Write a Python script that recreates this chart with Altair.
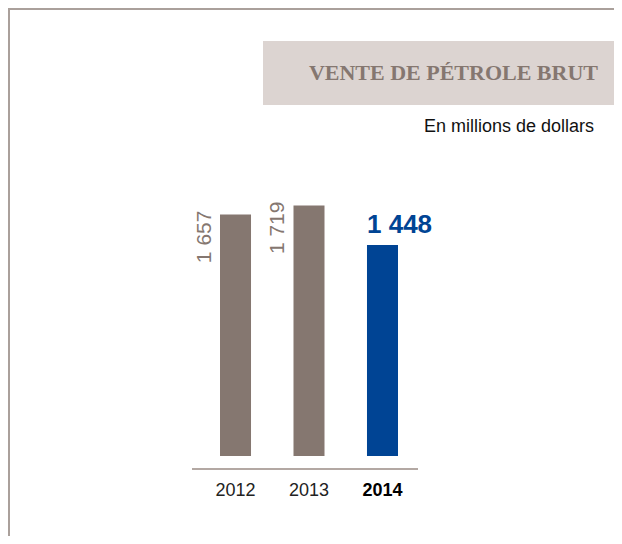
import altair as alt
import pandas as pd

# ---- data ----
years = ["2012", "2013", "2014"]
sales = [1657, 1719, 1448]
highlight_year = "2014"
title_text = "VENTE DE PÉTROLE BRUT"
subtitle_text = "En millions de dollars"

labels = [f"{v:,}".replace(",", " ") for v in sales]
df = pd.DataFrame({"year": years, "sales": sales, "label": labels})
one = pd.DataFrame({"k": [0]})

GREY = "#857770"
BLUE = "#004494"
FRAME = "#aaa09b"
BOX = "#dcd4d1"

W, H = 606, 528

xscale = alt.Scale(domain=years, range=[212, 390], paddingInner=0.578, paddingOuter=0)
yscale = alt.Scale(domain=[0, 2000], range=[448, 156.6], nice=False, zero=True)
X = alt.X("year:N", scale=xscale, axis=None)
Y = alt.Y("sales:Q", scale=yscale, axis=None)

is_hl = alt.datum.year == highlight_year
not_hl = alt.datum.year != highlight_year

top_line = alt.Chart(one).mark_rule(color=FRAME, strokeWidth=2).encode(
    x=alt.value(0), x2=alt.value(W), y=alt.value(1))
left_line = alt.Chart(one).mark_rule(color=FRAME, strokeWidth=2).encode(
    x=alt.value(1), y=alt.value(0), y2=alt.value(H))

title_box = alt.Chart(one).mark_rect(color=BOX).encode(
    x=alt.value(255), x2=alt.value(W), y=alt.value(33), y2=alt.value(97))
title = alt.Chart(one).mark_text(
    text=title_text, font="Liberation Serif", fontSize=22, fontWeight="bold",
    color=GREY, align="right", baseline="alphabetic").encode(
    x=alt.value(590), y=alt.value(72))
subtitle = alt.Chart(one).mark_text(
    text=subtitle_text, font="Liberation Sans", fontSize=18, color="#111111",
    align="right", baseline="alphabetic").encode(x=alt.value(586), y=alt.value(124))

bars = alt.Chart(df).mark_bar().encode(
    x=X, y=Y,
    color=alt.condition(is_hl, alt.value(BLUE), alt.value(GREY)))

baseline = alt.Chart(one).mark_rule(color="#b3a8a3", strokeWidth=2).encode(
    x=alt.value(184), x2=alt.value(410), y=alt.value(461))

year_labels = alt.Chart(df).transform_filter(not_hl).mark_text(
    font="Liberation Sans", fontSize=18, baseline="alphabetic", color="#222222").encode(
    x=X, y=alt.value(488), text="year:N")
year_hl = alt.Chart(df).transform_filter(is_hl).mark_text(
    font="Liberation Sans", fontSize=18, fontWeight="bold", baseline="alphabetic",
    color="#000000").encode(x=X, y=alt.value(488), text="year:N")

rot_labels = alt.Chart(df).transform_filter(not_hl).mark_text(
    font="Liberation Sans", fontSize=21, color=GREY, angle=270,
    align="right", baseline="middle", dx=4, dy=-31).encode(
    x=X, y=Y, text="label:N")

hl_label = alt.Chart(df).transform_filter(is_hl).mark_text(
    font="Liberation Sans", fontSize=26, fontWeight="bold", color=BLUE,
    align="left", baseline="alphabetic", dx=-15.5, dy=-12).encode(
    x=X, y=Y, text="label:N")

chart = alt.layer(
    top_line, left_line, title_box, title, subtitle,
    bars, baseline, year_labels, year_hl, rot_labels, hl_label
).properties(
    width=W, height=H, autosize=alt.AutoSizeParams(type="none"), padding=0,
    background="white"
).configure_view(stroke=None)

chart.save("out.html", embed_options={"renderer": "svg", "actions": False})
